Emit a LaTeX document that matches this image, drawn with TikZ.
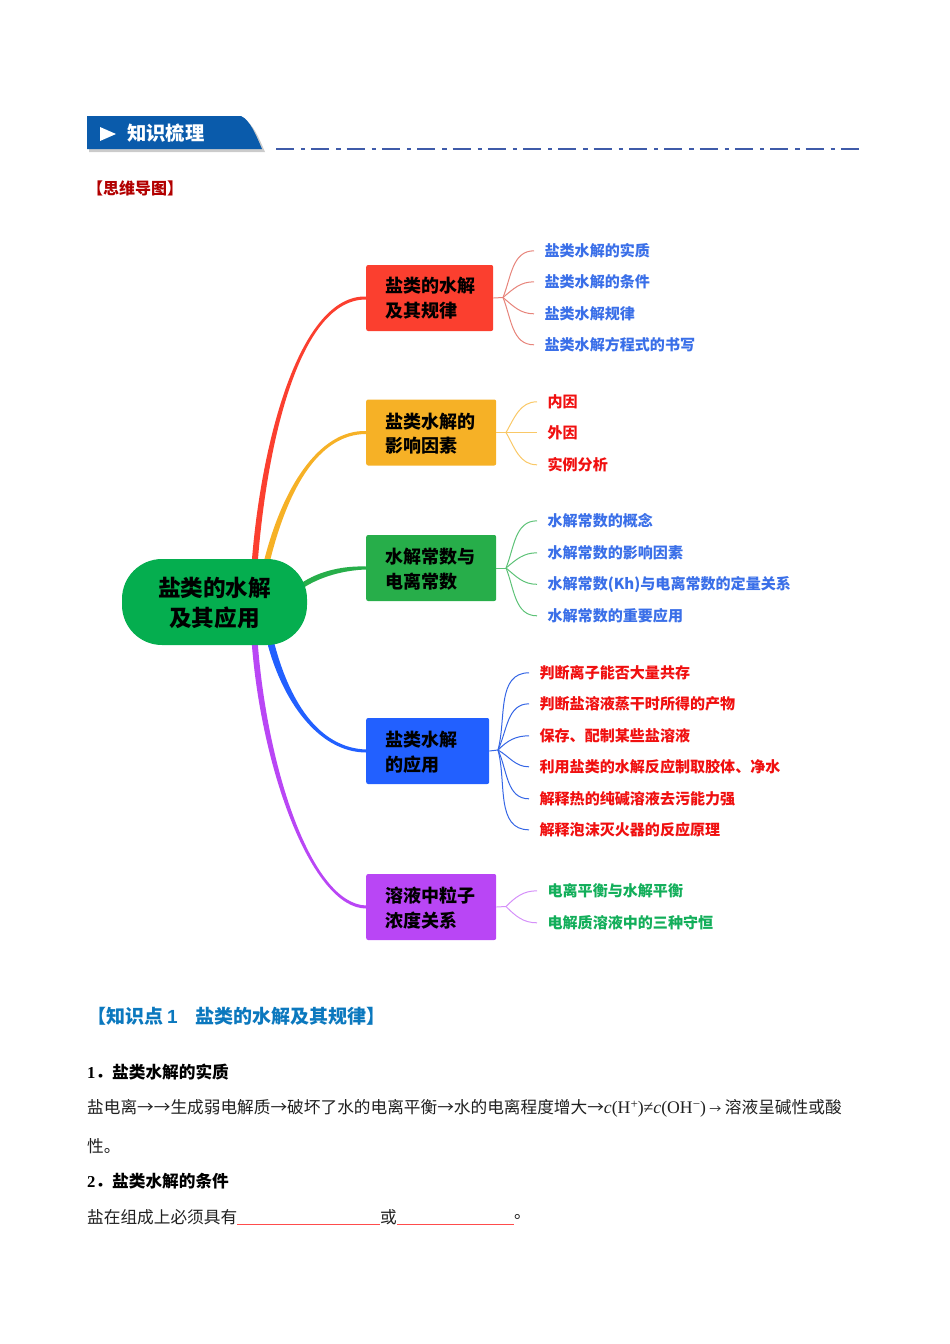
\documentclass[tikz,border=0pt]{standalone}
\usepackage{fontspec}
\setmainfont{Noto Sans CJK SC}
\newfontfamily\tnr{Liberation Serif}
\newfontfamily\arial{Liberation Sans}
\usetikzlibrary{calc,backgrounds}

\definecolor{headblue}{HTML}{0A5BAB}
\definecolor{dashblue}{HTML}{3F5BA9}
\definecolor{leafblue}{HTML}{3A6FE8}
\definecolor{leafred}{HTML}{F01010}
\definecolor{leafgreen}{HTML}{12AE5A}
\definecolor{rootgreen}{HTML}{05AE4F}
\definecolor{rulered}{HTML}{FB3F2F}
\definecolor{factoryellow}{HTML}{F6B126}
\definecolor{constgreen}{HTML}{27AE4A}
\definecolor{useblue}{HTML}{2260FF}
\definecolor{concpurple}{HTML}{B946F5}
\definecolor{pointblue}{HTML}{0B78BE}
\definecolor{bodygrey}{HTML}{202020}

\tikzset{
	branchbox/.style 2 args={rectangle, rounded corners=2pt, fill=#2, anchor=west, align=left, inner xsep=19pt, inner ysep=0pt, text width=#1-38pt, minimum height=66pt, font=\fontsize{18}{24.5}\selectfont\bfseries},
	leaf/.style={anchor=west, inner xsep=10.4pt, inner ysep=0pt, yshift=0.2pt, font=\fontsize{15.05}{15}\selectfont\bfseries},
	twig/.style={line width=1pt},
	bodyline/.style={anchor=west, inner sep=0pt, text=bodygrey, font=\fontsize{16.67}{20}\selectfont},
	bodyhead/.style={anchor=west, inner sep=0pt, font=\fontsize{16.67}{20}\selectfont\bfseries},
}

% tapered limb: colour, foot, control 1, control 2, target box, half width at foot
\newcommand{\limb}[6]{
	\fill[#1] ($#2+#6$) .. controls ($#3+#6$) and ($#4+(0,-2.2)$) .. ($(#5.west)+(0,-1.5)$) -- ($(#5.west)+(0,1.5)$) .. controls ($#4+(0,2.2)$) and ($#3-#6$) .. ($#2-#6$) -- cycle;
}
\newcommand{\lift}{\rule{0pt}{18pt}}

\begin{document}
\begin{tikzpicture}[x=1pt, y=-1pt]
	\useasboundingbox (0,0) rectangle (950,1344);

	% header
	\fill[black!45, opacity=0.45] (89,119) -- (243,119) .. controls (253,123) and (259,138) .. (265,152) -- (89,152) -- cycle;
	\fill[headblue] (87,116) -- (241,116) .. controls (250,120) and (256,135) .. (262,149) -- (87,149) -- cycle;
	\fill[white] (100,127) -- (116,134) -- (100,141) -- cycle;
	\node[anchor=west, inner sep=0pt, text=white, font=\fontsize{19.3}{20}\selectfont\bfseries] (headtitle) at (127,133) {知识梳理};
	\draw[dashblue, line width=2.4pt, dash pattern=on 18pt off 7pt on 4.3pt off 6pt] (276,149) -- (860,149);

	\node[anchor=west, inner sep=0pt, text=red!70!black, font=\fontsize{16}{16}\selectfont\bfseries] (maptitle) at (87,188.5) {【思维导图】};

	% mind map
	\node[rectangle, rounded corners=40pt, fill=rootgreen, minimum width=185pt, minimum height=86pt, inner sep=0pt, align=center, font=\fontsize{22.6}{30.5}\selectfont\bfseries] (root) at (214.5,602) {\rule{0pt}{21.5pt}盐类的水解\\及其应用};

	\node[branchbox={127pt}{rulered}] (rule) at (366,298) {盐类的水解\\及其规律};
	\node[branchbox={130pt}{factoryellow}] (factor) at (366,432.5) {\lift 盐类水解的\\影响因素};
	\node[branchbox={130pt}{constgreen}] (constant) at (366,568) {\lift 水解常数与\\电离常数};
	\node[branchbox={123pt}{useblue}] (use) at (366,751) {\lift 盐类水解\\的应用};
	\node[branchbox={130pt}{concpurple}] (conc) at (366,907) {\lift 溶液中粒子\\浓度关系};

	\begin{pgfonlayer}{background}
		\limb{rulered}{(254.5,565)}{(264,440)}{(300,297)}{rule}{(-3,0)}
		\limb{factoryellow}{(266,565)}{(284,490)}{(318,432)}{factor}{(-3,0)}
		\limb{constgreen}{(300,587)}{(320,573)}{(345,568)}{constant}{(0,-3)}
		\limb{useblue}{(270,640)}{(285,700)}{(318,750)}{use}{(3.5,0)}
		\limb{concpurple}{(254.5,640)}{(264,770)}{(312,906)}{conc}{(3,0)}
	\end{pgfonlayer}

	% leaves
	\coordinate (rulejoint) at (503,297.5);
	\draw[twig, rulered!75!gray!70!white] (rule.east) -- (rulejoint);
	\foreach \i/\y/\ang/\txt in {1/251/68/盐类水解的实质, 2/282/40/盐类水解的条件, 3/314/-40/盐类水解规律, 4/345/-68/盐类水解方程式的书写} {
		\node[leaf, text=leafblue] (rule-\i) at (534,\y) {\txt};
		\draw[twig, rulered!75!gray!70!white] (rulejoint) to[out=\ang, in=180] (rule-\i.west);
	}

	\coordinate (factorjoint) at (506,432.5);
	\draw[twig, factoryellow!70!white] (factor.east) -- (factorjoint);
	\foreach \i/\y/\ang/\txt in {1/402/60/内因, 2/432.7/0/外因, 3/465/-60/实例分析} {
		\node[leaf, text=leafred] (factor-\i) at (537,\y) {\txt};
		\draw[twig, factoryellow!70!white] (factorjoint) to[out=\ang, in=180] (factor-\i.west);
	}

	\coordinate (constantjoint) at (506,568);
	\draw[twig, constgreen!75!white] (constant.east) -- (constantjoint);
	\foreach \i/\y/\ang/\txt in {1/521/68/水解常数的概念, 2/553/40/水解常数的影响因素, 3/584.5/-40/水解常数(Kh)与电离常数的定量关系, 4/616/-68/水解常数的重要应用} {
		\node[leaf, text=leafblue] (constant-\i) at (537,\y) {\txt};
		\draw[twig, constgreen!75!white] (constantjoint) to[out=\ang, in=180] (constant-\i.west);
	}

	\coordinate (usejoint) at (498,750);
	\draw[twig, useblue!80!gray] (use.east) -- (usejoint);
	\foreach \i/\y/\ang/\txt in {1/673/75/判断离子能否大量共存, 2/704/65/判断盐溶液蒸干时所得的产物, 3/736/45/保存、配制某些盐溶液, 4/767/-30/利用盐类的水解反应制取胶体、净水, 5/799/-65/解释热的纯碱溶液去污能力强, 6/830/-75/解释泡沫灭火器的反应原理} {
		\node[leaf, text=leafred] (use-\i) at (529,\y) {\txt};
		\draw[twig, useblue!80!gray] (usejoint) to[out=\ang, in=180] (use-\i.west);
	}

	\coordinate (concjoint) at (506,906.5);
	\draw[twig, concpurple!60!white] (conc.east) -- (concjoint);
	\foreach \i/\y/\ang/\txt in {1/891/45/电离平衡与水解平衡, 2/923/-45/电解质溶液中的三种守恒} {
		\node[leaf, text=leafgreen] (conc-\i) at (537,\y) {\txt};
		\draw[twig, concpurple!60!white] (concjoint) to[out=\ang, in=180] (conc-\i.west);
	}

	% text below
	\node[anchor=west, inner sep=0pt, text=pointblue, font=\fontsize{19}{19}\selectfont\bfseries] (pointtitle) at (87,1016) {【知识点\hspace{4pt}{\arial 1}\hspace{18pt}盐类的水解及其规律】};

	\node[bodyhead] (headone) at (87,1072.5) {{\tnr 1}．盐类水解的实质};
	\node[bodyline] (lineone) at (87,1108) {盐电离→→生成弱电解质→破坏了水的电离平衡→水的电离程度增大→{\tnr\fontsize{17.7}{20}\selectfont\itshape c}{\tnr\fontsize{17.7}{20}\selectfont(H\raisebox{5pt}{\fontsize{13}{13}\selectfont +})≠}{\tnr\fontsize{17.7}{20}\selectfont\itshape c}{\tnr\fontsize{17.7}{20}\selectfont(OH\raisebox{5pt}{\fontsize{13}{13}\selectfont −})}\hspace{3.5pt}{\fontsize{12}{12}\selectfont →}\hspace{3.5pt}溶液呈碱性或酸};
	\node[bodyline] (linetwo) at (87,1146.5) {性。};
	\node[bodyhead] (headtwo) at (87,1181) {{\tnr 2}．盐类水解的条件};
	\node[bodyline] (fillstart) at (87,1217) {盐在组成上必须具有};
	\node[bodyline] (fillor) at (380,1217) {或};
	\node[bodyline] (fillend) at (514,1217) {。};
	\coordinate (blankone) at (fillstart.east |- 0,1224.5);
	\coordinate (blanktwo) at (fillor.west |- 0,1224.5);
	\coordinate (blankthree) at (fillor.east |- 0,1224.5);
	\coordinate (blankfour) at (fillend.west |- 0,1224.5);
	\draw[red!70!white, line width=0.9pt] (blankone) -- (blanktwo);
	\draw[red!70!white, line width=0.9pt] (blankthree) -- (blankfour);
\end{tikzpicture}
\end{document}
